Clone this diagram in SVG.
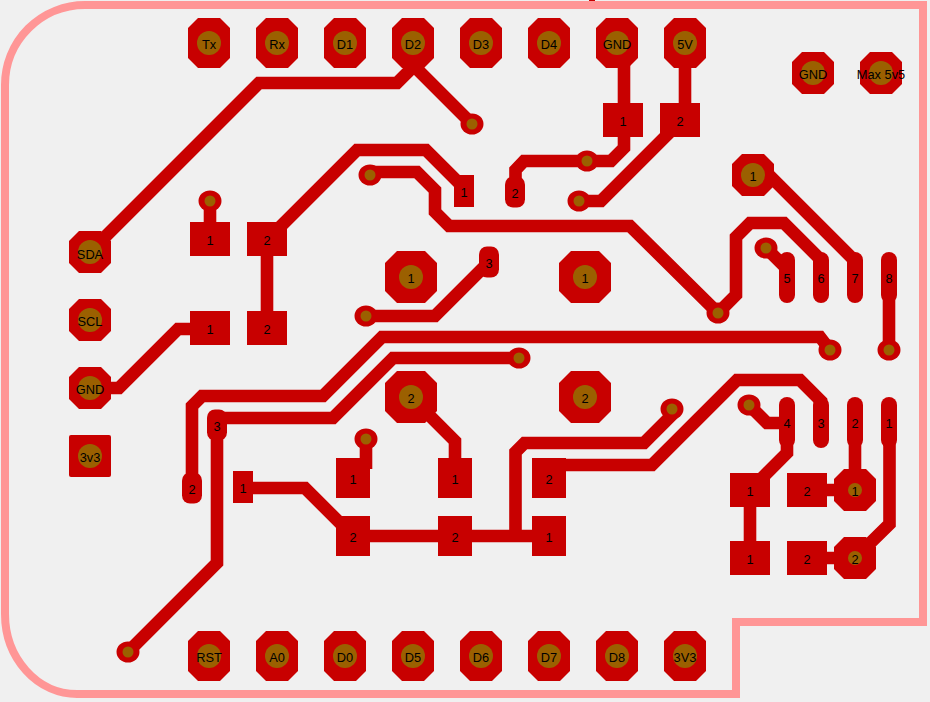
<svg xmlns="http://www.w3.org/2000/svg" width="930" height="702" viewBox="0 0 930 702">
<style>
.t{fill:none;stroke:#c80000;stroke-width:12.6;stroke-linejoin:miter;stroke-linecap:butt}
.p{fill:#c80000}
.h{fill:#9b6000}
text{font-family:"Liberation Sans",Arial,sans-serif;font-size:12.8px;fill:#000;text-anchor:middle;transform:translateY(.7px)}
</style>
<defs>
<polygon id="o50" class="p" points="-11,-25 11,-25 21,-15 21,15 11,25 -11,25 -21,15 -21,-15"/>
<polygon id="o42" class="p" points="-11,-21 11,-21 21,-11 21,11 11,21 -11,21 -21,11 -21,-11"/>
<polygon id="o52" class="p" points="-14,-26 14,-26 26,-14 26,14 14,26 -14,26 -26,14 -26,-14"/>
<rect id="r40" class="p" x="-20" y="-17" width="40" height="34"/>
<rect id="r34" class="p" x="-17" y="-20" width="34" height="40"/>
<rect id="pill" class="p" x="-8" y="-25.5" width="16" height="51" rx="8"/>
<rect id="sm" class="p" x="-10" y="-15.5" width="20" height="31" rx="8"/>
<ellipse id="via" class="p" rx="11.5" ry="10.5"/>
<circle id="vh" class="h" r="5.5"/>
<circle id="ph" class="h" r="12"/>
<circle id="ps" class="h" r="7"/>
</defs>
<rect width="930" height="702" fill="#f0f0f0"/>
<path id="board" d="M85 5H923V622H736V694H77A72 80 0 0 1 5 614V85A80 80 0 0 1 85 5Z" fill="none" stroke="#ff9696" stroke-width="8"/>
<rect x="589" y="0" width="6" height="1" fill="#c80000"/>
<g id="connectors">
<path class="t" d="M90 252L259 83H397L417 63"/>
<path class="t" d="M409 61L472 124"/>
<path class="t" d="M267 240L357 150H426L464 188"/>
<path class="t" d="M370 172H417L435 190V212L449 226H630L718 313L736 295V237L750 223H784L821 260V277"/>
<path class="t" d="M766 248L782 264H787"/>
<path class="t" d="M753 175H769L855 261V277"/>
<path class="t" d="M889 277V350"/>
<path class="t" d="M192 488V406L202 396H323L382 337H820L830 350"/>
<path class="t" d="M128 652L217 563V418H333L393 358H519"/>
<path class="t" d="M90 388H119L178 329H210"/>
<path class="t" d="M267 240V328"/>
<path class="t" d="M210 201V239"/>
<path class="t" d="M366 316H435L489 262"/>
<path class="t" d="M624 60V148L611 161H524L515.500 170V191"/>
<path class="t" d="M685 43V110"/>
<path class="t" d="M680 122L601 201H579"/>
<path class="t" d="M411 397L455 441V478"/>
<path class="t" d="M366 439V469"/>
<path class="t" d="M243 488H305L353 536H549"/>
<path class="t" d="M515.500 536V452L524.500 443H644L672 415V409"/>
<path class="t" d="M549 465H652L737 380H800L821 401V423"/>
<path class="t" d="M749 405L767 423H787"/>
<path class="t" d="M787 423V453L750 490V558"/>
<path class="t" d="M855 423V490"/>
<path class="t" d="M807 490H855"/>
<path class="t" d="M807 558H855"/>
<path class="t" d="M889.500 423V524L855 558"/>
</g>
<g id="header-top">
<g id="Tx" transform="translate(209 43)"><use href="#o50"/><use href="#ph"/><text y="5">Tx</text></g>
<g id="Rx" transform="translate(277 43)"><use href="#o50"/><use href="#ph"/><text y="5">Rx</text></g>
<g id="D1" transform="translate(345 43)"><use href="#o50"/><use href="#ph"/><text y="5">D1</text></g>
<g id="D2" transform="translate(413 43)"><use href="#o50"/><use href="#ph"/><text y="5">D2</text></g>
<g id="D3" transform="translate(481 43)"><use href="#o50"/><use href="#ph"/><text y="5">D3</text></g>
<g id="D4" transform="translate(549 43)"><use href="#o50"/><use href="#ph"/><text y="5">D4</text></g>
<g id="GND-top" transform="translate(617 43)"><use href="#o50"/><use href="#ph"/><text y="5">GND</text></g>
<g id="V5" transform="translate(685 43)"><use href="#o50"/><use href="#ph"/><text y="5">5V</text></g>
</g>
<g id="header-bottom">
<g id="RST" transform="translate(209 656)"><use href="#o50"/><use href="#ph"/><text y="5">RST</text></g>
<g id="A0" transform="translate(277 656)"><use href="#o50"/><use href="#ph"/><text y="5">A0</text></g>
<g id="D0" transform="translate(345 656)"><use href="#o50"/><use href="#ph"/><text y="5">D0</text></g>
<g id="D5" transform="translate(413 656)"><use href="#o50"/><use href="#ph"/><text y="5">D5</text></g>
<g id="D6" transform="translate(481 656)"><use href="#o50"/><use href="#ph"/><text y="5">D6</text></g>
<g id="D7" transform="translate(549 656)"><use href="#o50"/><use href="#ph"/><text y="5">D7</text></g>
<g id="D8" transform="translate(617 656)"><use href="#o50"/><use href="#ph"/><text y="5">D8</text></g>
<g id="V3V3" transform="translate(685 656)"><use href="#o50"/><use href="#ph"/><text y="5">3V3</text></g>
</g>
<g id="SDA" transform="translate(90 252)"><use href="#o42"/><use href="#ph"/><text y="6">SDA</text></g>
<g id="SCL" transform="translate(90 320)"><use href="#o42"/><use href="#ph"/><text y="5">SCL</text></g>
<g id="GND-left" transform="translate(90 388)"><use href="#o42"/><use href="#ph"/><text y="5">GND</text></g>
<g id="v3v3" transform="translate(90 456)"><rect class="p" x="-21" y="-21" width="42" height="42" rx="2"/><use href="#ph"/><text y="5">3v3</text></g>
<g id="GND-right" transform="translate(813 73)"><use href="#o42"/><use href="#ph"/><text y="5">GND</text></g>
<g id="Max5v5" transform="translate(881 73)"><use href="#o42"/><use href="#ph"/><text y="5">Max 5v5</text></g>
<g id="M1a" transform="translate(411 277)"><use href="#o52"/><use href="#ph"/><text y="5">1</text></g>
<g id="M1b" transform="translate(585 277)"><use href="#o52"/><use href="#ph"/><text y="5">1</text></g>
<g id="M2a" transform="translate(411 397)"><use href="#o52"/><use href="#ph"/><text y="5">2</text></g>
<g id="M2b" transform="translate(585 397)"><use href="#o52"/><use href="#ph"/><text y="5">2</text></g>
<g id="P1" transform="translate(753 175)"><use href="#o42"/><use href="#ph"/><text y="5">1</text></g>
<g id="P2" transform="translate(855 490)"><use href="#o42"/><use href="#ps"/><text y="5">1</text></g>
<g id="P3" transform="translate(855 558)"><use href="#o42"/><use href="#ps"/><text y="5">2</text></g>
<g id="C1-1" transform="translate(210 239)"><use href="#r40"/><text y="5">1</text></g>
<g id="C1-2" transform="translate(267 239)"><use href="#r40"/><text y="5">2</text></g>
<g id="C2-1" transform="translate(210 328)"><use href="#r40"/><text y="5">1</text></g>
<g id="C2-2" transform="translate(267 328)"><use href="#r40"/><text y="5">2</text></g>
<g id="C3-1" transform="translate(623 120)"><use href="#r40"/><text y="5">1</text></g>
<g id="C3-2" transform="translate(680 120)"><use href="#r40"/><text y="5">2</text></g>
<g id="C4-1" transform="translate(750 490)"><use href="#r40"/><text y="5">1</text></g>
<g id="C4-2" transform="translate(807 490)"><use href="#r40"/><text y="5">2</text></g>
<g id="C5-1" transform="translate(750 558)"><use href="#r40"/><text y="5">1</text></g>
<g id="C5-2" transform="translate(807 558)"><use href="#r40"/><text y="5">2</text></g>
<g id="R1-1" transform="translate(353 478)"><use href="#r34"/><text y="5">1</text></g>
<g id="R1-2" transform="translate(353 536)"><use href="#r34"/><text y="5">2</text></g>
<g id="R2-1" transform="translate(455 478)"><use href="#r34"/><text y="5">1</text></g>
<g id="R2-2" transform="translate(455 536)"><use href="#r34"/><text y="5">2</text></g>
<g id="R3-2" transform="translate(549 478)"><use href="#r34"/><text y="5">2</text></g>
<g id="R3-1" transform="translate(549 536)"><use href="#r34"/><text y="5">1</text></g>
<g id="Q1-1" transform="translate(464 191)"><rect class="p" x="-10" y="-16" width="20" height="32"/><text y="5">1</text></g>
<g id="Q1-2" transform="translate(515 192)"><use href="#sm"/><text y="5">2</text></g>
<g id="Q1-3" transform="translate(489 262)"><use href="#sm"/><text y="5">3</text></g>
<g id="Q2-1" transform="translate(243 487)"><rect class="p" x="-10" y="-16" width="20" height="32"/><text y="5">1</text></g>
<g id="Q2-2" transform="translate(192 488)"><use href="#sm"/><text y="5">2</text></g>
<g id="Q2-3" transform="translate(217 425)"><use href="#sm"/><text y="5">3</text></g>
<g id="U5" transform="translate(787 277.500)"><use href="#pill"/><text y="5">5</text></g>
<g id="U6" transform="translate(821 277.500)"><use href="#pill"/><text y="5">6</text></g>
<g id="U7" transform="translate(855 277.500)"><use href="#pill"/><text y="5">7</text></g>
<g id="U8" transform="translate(889 277.500)"><use href="#pill"/><text y="5">8</text></g>
<g id="U4" transform="translate(787 422.500)"><use href="#pill"/><text y="5">4</text></g>
<g id="U3" transform="translate(821 422.500)"><use href="#pill"/><text y="5">3</text></g>
<g id="U2" transform="translate(855 422.500)"><use href="#pill"/><text y="5">2</text></g>
<g id="U1" transform="translate(889 422.500)"><use href="#pill"/><text y="5">1</text></g>
<g id="vias">
<g id="via1" transform="translate(472 124)"><use href="#via"/><use href="#vh"/></g>
<g id="via2" transform="translate(370 175)"><use href="#via"/><use href="#vh"/></g>
<g id="via3" transform="translate(210 201)"><use href="#via"/><use href="#vh"/></g>
<g id="via4" transform="translate(366 316)"><use href="#via"/><use href="#vh"/></g>
<g id="via5" transform="translate(587 161)"><use href="#via"/><use href="#vh"/></g>
<g id="via6" transform="translate(579 201)"><use href="#via"/><use href="#vh"/></g>
<g id="via7" transform="translate(718 313)"><use href="#via"/><use href="#vh"/></g>
<g id="via8" transform="translate(766 248)"><use href="#via"/><use href="#vh"/></g>
<g id="via9" transform="translate(830 350)"><use href="#via"/><use href="#vh"/></g>
<g id="via10" transform="translate(889 350)"><use href="#via"/><use href="#vh"/></g>
<g id="via11" transform="translate(366 439)"><use href="#via"/><use href="#vh"/></g>
<g id="via12" transform="translate(128 652)"><use href="#via"/><use href="#vh"/></g>
<g id="via13" transform="translate(519 358)"><use href="#via"/><use href="#vh"/></g>
<g id="via14" transform="translate(672 409)"><use href="#via"/><use href="#vh"/></g>
<g id="via15" transform="translate(749 405)"><use href="#via"/><use href="#vh"/></g>
</g>
</svg>
